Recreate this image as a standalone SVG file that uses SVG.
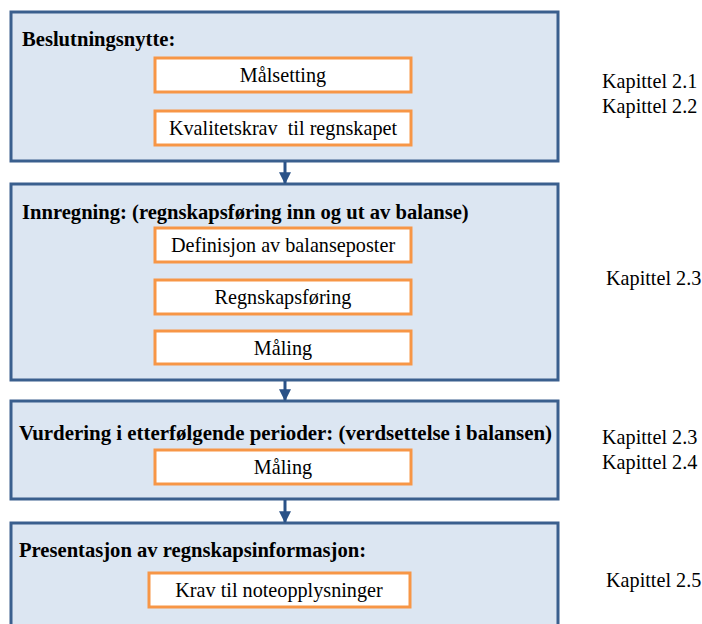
<svg xmlns="http://www.w3.org/2000/svg" width="702" height="624" viewBox="0 0 702 624">
<style>
.outer{fill:#dce6f2;stroke:#3a5f8e;stroke-width:3}
.inner{fill:#ffffff;stroke:#f79646;stroke-width:3}
text{font-family:'Liberation Serif',Tinos,'Times New Roman',Times,serif;font-size:20.2px;fill:#000}
.b{font-weight:bold;font-size:20.6px}
.c{text-anchor:middle}
.arr{stroke:#2a5288;stroke-width:3;fill:none}
</style>
<defs>
<marker id="ah" viewBox="0 0 10 10" refX="9" refY="5" markerWidth="4" markerHeight="4" orient="auto" markerUnits="strokeWidth">
<path d="M0,0 L10,5 L0,10 Z" fill="#2a5288"/>
</marker>
</defs>
<rect width="702" height="624" fill="#ffffff"/>
<g id="box1">
<rect class="outer" x="11" y="12" width="547" height="149"/>
<text class="b" x="22" y="46">Beslutningsnytte:</text>
<g id="malsetting"><rect class="inner" x="155" y="58" width="256" height="34"/><text class="c" x="283" y="82">Målsetting</text></g>
<g id="kvalitetskrav"><rect class="inner" x="155" y="111" width="256" height="34"/><text class="c" x="283" y="135" xml:space="preserve">Kvalitetskrav  til regnskapet</text></g>
</g>
<g id="box2">
<rect class="outer" x="11" y="184" width="547" height="196"/>
<text class="b" x="22" y="219">Innregning: (regnskapsføring inn og ut av balanse)</text>
<g id="definisjon"><rect class="inner" x="155" y="228" width="256" height="34"/><text class="c" x="283" y="252">Definisjon av balanseposter</text></g>
<g id="regnskapsforing"><rect class="inner" x="155" y="280" width="256" height="34"/><text class="c" x="283" y="304">Regnskapsføring</text></g>
<g id="maling1"><rect class="inner" x="155" y="331" width="256" height="33"/><text class="c" x="283" y="355">Måling</text></g>
</g>
<g id="box3">
<rect class="outer" x="11" y="401" width="547" height="98"/>
<text class="b" x="19" y="440" textLength="533" lengthAdjust="spacingAndGlyphs">Vurdering i etterfølgende perioder: (verdsettelse i balansen)</text>
<g id="maling2"><rect class="inner" x="155" y="450" width="256" height="34"/><text class="c" x="283" y="474">Måling</text></g>
</g>
<g id="box4">
<rect class="outer" x="11" y="523" width="547" height="110"/>
<text class="b" x="19" y="557">Presentasjon av regnskapsinformasjon:</text>
<g id="krav"><rect class="inner" x="149" y="573" width="261" height="34"/><text class="c" x="279" y="597">Krav til noteopplysninger</text></g>
</g>
<g id="connectors">
<line class="arr" x1="285" y1="162" x2="285" y2="183" marker-end="url(#ah)"/>
<line class="arr" x1="285" y1="381" x2="285" y2="400" marker-end="url(#ah)"/>
<line class="arr" x1="285" y1="500" x2="285" y2="522" marker-end="url(#ah)"/>
</g>
<g id="labels">
<text x="602" y="88">Kapittel 2.1</text>
<text x="602" y="113">Kapittel 2.2</text>
<text x="606" y="285">Kapittel 2.3</text>
<text x="602" y="444">Kapittel 2.3</text>
<text x="602" y="469">Kapittel 2.4</text>
<text x="606" y="587">Kapittel 2.5</text>
</g>
</svg>
